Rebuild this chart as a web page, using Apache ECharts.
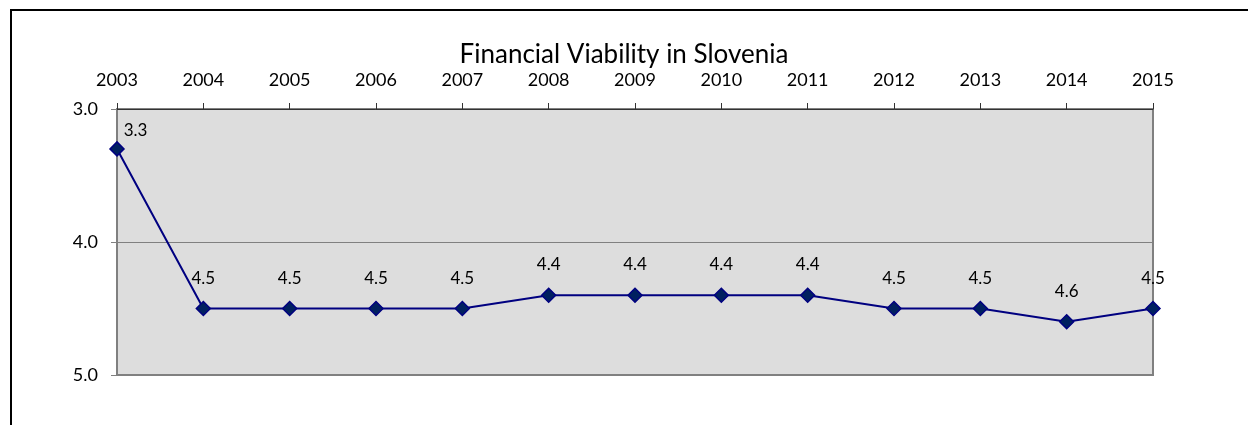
<!DOCTYPE html>
<html>
<head>
<meta charset="utf-8">
<script src="https://cdn.jsdelivr.net/npm/echarts@6/dist/echarts.min.js"></script>
<style>
  html, body { margin: 0; padding: 0; background: #ffffff; }
  #chart { width: 1248px; height: 425px; }
</style>
</head>
<body>
<div id="chart"></div>
<script>
const titleText = 'Financial Viability in Slovenia';
const years = ['2003','2004','2005','2006','2007','2008','2009','2010','2011','2012','2013','2014','2015'];
const scores = [3.3, 4.5, 4.5, 4.5, 4.5, 4.4, 4.4, 4.4, 4.4, 4.5, 4.5, 4.6, 4.5];
const yTicks = { min: 3, max: 5, interval: 1 };

const FONT = 'Lato, "Open Sans", sans-serif';
const chart = echarts.init(document.getElementById('chart'), null, { renderer: 'canvas' });

const seriesData = scores.map((v, i) => {
  if (i === 0) {
    return { value: v, label: { position: 'right', distance: 0, offset: [-1, -18] } };
  }
  return v;
});

chart.setOption({
  animation: false,
  backgroundColor: '#ffffff',
  title: {
    text: titleText,
    left: 'center',
    top: 37,
    textStyle: { fontFamily: FONT, fontSize: 26, fontWeight: 'normal', color: '#000000' }
  },
  graphic: [{
    type: 'rect',
    shape: { x: 11, y: 10, width: 1400, height: 600 },
    style: { fill: 'none', stroke: '#000000', lineWidth: 2 },
    silent: true,
    z: -1
  }],
  grid: {
    left: 117, right: 95, top: 109, height: 266,
    show: true,
    backgroundColor: '#dddddd',
    borderColor: '#808080',
    borderWidth: 2
  },
  xAxis: {
    type: 'category',
    position: 'top',
    data: years,
    boundaryGap: false,
    axisLine: { show: true, lineStyle: { color: '#333333', width: 1 } },
    axisTick: { show: true, inside: false, length: 6, alignWithLabel: true, lineStyle: { color: '#333333' } },
    axisLabel: { margin: 20, fontFamily: FONT, fontSize: 18, color: '#000000' },
    splitLine: { show: false }
  },
  yAxis: {
    type: 'value',
    inverse: true,
    min: yTicks.min,
    max: yTicks.max,
    interval: yTicks.interval,
    axisLine: { show: true, lineStyle: { color: '#808080', width: 2 } },
    axisTick: { show: true, length: 6, lineStyle: { color: '#808080' } },
    axisLabel: { margin: 19, fontFamily: FONT, fontSize: 18, color: '#000000', formatter: v => v.toFixed(1) },
    splitLine: { show: true, lineStyle: { color: '#808080', width: 1 } }
  },
  series: [{
    type: 'line',
    data: seriesData,
    symbol: 'diamond',
    symbolSize: 14,
    lineStyle: { color: '#000080', width: 2 },
    itemStyle: { color: '#002060', borderColor: '#000080', borderWidth: 1.5 },
    label: {
      show: true,
      position: 'top',
      distance: 14,
      fontFamily: FONT,
      fontSize: 17,
      color: '#000000',
      formatter: p => Number(p.value).toFixed(1)
    }
  }]
});
</script>
</body>
</html>
